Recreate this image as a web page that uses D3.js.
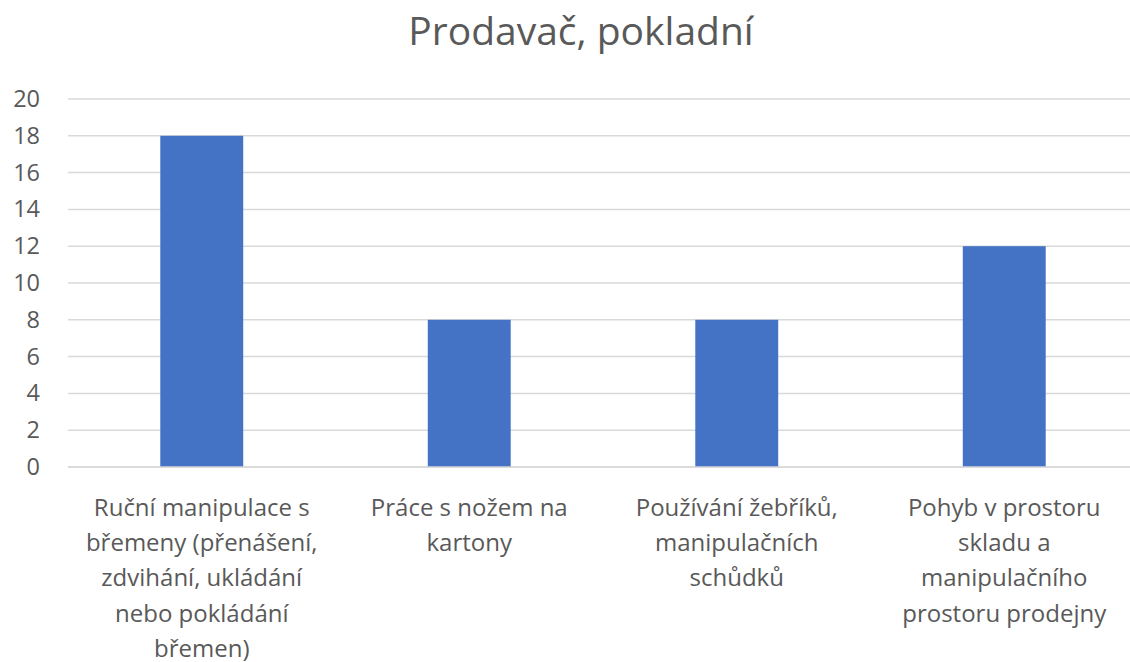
<!DOCTYPE html>
<html>
<head>
<meta charset="utf-8">
<script src="https://cdn.jsdelivr.net/npm/d3@7"></script>
<style>
  body { margin: 0; background: #fff; }
  text { font-family: "Open Sans", "Noto Sans", sans-serif; fill: #595959; }
</style>
</head>
<body>
<svg id="chart" width="1130" height="662"></svg>
<script>
const title = "Prodavač, pokladní";
const categories = [
    ["Ruční manipulace s", "břemeny (přenášení,", "zdvihání, ukládání", "nebo pokládání", "břemen)"],
    ["Práce s nožem na", "kartony"],
    ["Používání žebříků,", "manipulačních", "schůdků"],
    ["Pohyb v prostoru", "skladu a", "manipulačního", "prostoru prodejny"]
];
const values = [18, 8, 8, 12];
const yTicks = [0, 2, 4, 6, 8, 10, 12, 14, 16, 18, 20];

const svg = d3.select("#chart");
const plotLeft = 68, plotRight = 1138, plotTop = 99, plotBottom = 467;

const x = d3.scaleBand()
    .domain(d3.range(values.length))
    .range([plotLeft, plotRight])
    .paddingInner(0.69)
    .paddingOuter(0.345);

const y = d3.scaleLinear().domain([0, 20]).range([plotBottom, plotTop]);

// gridlines
svg.append("g")
    .selectAll("line")
    .data(yTicks)
    .join("line")
    .attr("x1", plotLeft)
    .attr("x2", plotRight)
    .attr("y1", d => y(d))
    .attr("y2", d => y(d))
    .attr("stroke", "#d9d9d9")
    .attr("stroke-width", 1.5);

// y axis labels
const yAxis = svg.append("g")
    .attr("transform", `translate(${plotLeft - 28},0)`)
    .call(d3.axisLeft(y).tickValues(yTicks).tickSize(0).tickPadding(0));
yAxis.select(".domain").remove();
yAxis.selectAll("text")
    .attr("font-size", 23.5)
    .attr("font-family", null)
    .attr("fill", "#595959");

svg.append("g")
    .selectAll("rect")
    .data(values)
    .join("rect")
    .attr("x", (d, i) => x(i))
    .attr("y", d => y(d))
    .attr("width", x.bandwidth())
    .attr("height", d => y(0) - y(d))
    .attr("fill", "#4472c4");

// baseline
svg.append("line")
    .attr("x1", plotLeft).attr("x2", plotRight)
    .attr("y1", y(0)).attr("y2", y(0))
    .attr("stroke", "#d9d9d9").attr("stroke-width", 1.5);

// category labels
const labels = svg.append("g")
    .selectAll("text")
    .data(categories)
    .join("text")
    .attr("text-anchor", "middle")
    .attr("font-size", 24)
    .attr("transform", (d, i) => `translate(${x(i) + x.bandwidth() / 2},${y(0) + 49})`);
labels.selectAll("tspan")
    .data(d => d)
    .join("tspan")
    .attr("x", 0)
    .attr("y", (d, i) => i * 35.2)
    .text(d => d);

svg.append("text")
    .attr("x", 581)
    .attr("y", 45)
    .attr("text-anchor", "middle")
    .attr("font-size", 39)
    .text(title);
</script>
</body>
</html>
